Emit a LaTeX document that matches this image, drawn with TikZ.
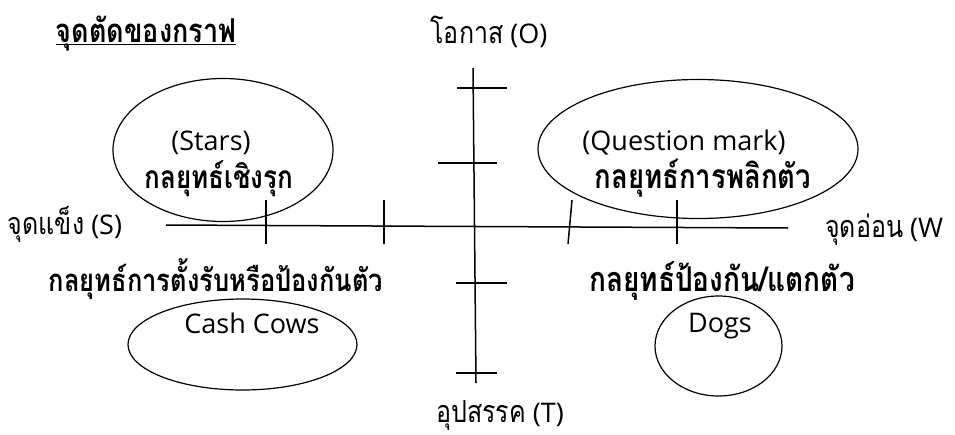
\documentclass[tikz,border=0pt]{standalone}
\usepackage{fontspec}
\usetikzlibrary{shapes.geometric}
\setmainfont{Open Sans}
\newfontfamily\thai[Script=Thai]{Loma}
\newcommand\tallthai[1]{\scalebox{1}[1.22]{\thai #1}}
\begin{document}
\begin{tikzpicture}[x=1pt,y=-1pt,
  axis/.style={line width=1.5pt},
  tick/.style={line width=1.5pt},
  oval/.style={draw, ellipse, line width=1.2pt, inner sep=0pt},
  lbl/.style={font=\fontsize{27}{31}\selectfont, inner sep=0pt, anchor=base},
  blbl/.style={font=\fontsize{26}{30}\selectfont\bfseries, inner sep=0pt, anchor=base}]
\useasboundingbox (0,0) rectangle (955,434);
% axes
\coordinate (vtop) at (473,68);
\coordinate (vbot) at (476,383);
\coordinate (hleft) at (166,225);
\coordinate (hright) at (788,228);
\draw[axis] (vtop) -- (vbot);
\draw[axis] (hleft) -- (hright);
% vertical ticks
\coordinate (t1a) at (457,88);  \coordinate (t1b) at (507,88);
\coordinate (t2a) at (438,163); \coordinate (t2b) at (497,163);
\coordinate (t3a) at (456,283); \coordinate (t3b) at (507,283);
\coordinate (t4a) at (456,373); \coordinate (t4b) at (497,373);
\draw[tick] (t1a) -- (t1b);
\draw[tick] (t2a) -- (t2b);
\draw[tick] (t3a) -- (t3b);
\draw[tick] (t4a) -- (t4b);
% horizontal ticks
\coordinate (h1a) at (266,200); \coordinate (h1b) at (266,244);
\coordinate (h2a) at (384,200); \coordinate (h2b) at (384,244);
\coordinate (h3a) at (572,200); \coordinate (h3b) at (568,244);
\coordinate (h4a) at (677,200); \coordinate (h4b) at (677,244);
\draw[tick] (h1a) -- (h1b);
\draw[tick] (h2a) -- (h2b);
\draw[tick] (h3a) -- (h3b);
\draw[tick] (h4a) -- (h4b);
% ellipses
\node[oval, minimum width=220pt, minimum height=143pt] (stars) at (223,150) {};
\node[oval, minimum width=320pt, minimum height=139pt] (qm) at (698,149) {};
\node[oval, minimum width=229pt, minimum height=91pt] (cows) at (242.5,344.5) {};
\node[oval, minimum width=127pt, minimum height=100pt] (dogs) at (718.5,346) {};
% labels
\node[blbl, font=\fontsize{27}{31}\selectfont\bfseries] (title) at (146,42) {\tallthai{จุดตัดของกราฟ}};
\draw[line width=1.6pt] ([yshift=-2.5pt]title.base west) -- ([yshift=-2.5pt]title.base east);
\node[lbl] (opp) at (489,43) {{\fontsize{25}{30}\selectfont\tallthai{โอกาส}} (O)};
\node[lbl] (thr) at (500,422) {{\fontsize{25}{30}\selectfont\tallthai{อุปสรรค}} (T)};
\node[lbl] (str) at (65,234) {{\fontsize{25}{30}\selectfont\tallthai{จุดแข็ง}} (S)};
\node[lbl, anchor=base west] (wk) at (825,237) {{\fontsize{25}{30}\selectfont\tallthai{จุดอ่อน}} (W};
\node[lbl] (starsl) at (211,150) {(Stars)};
\node[lbl] (qml) at (684,150) {(Question mark)};
\node[blbl] (s1) at (219,188) {\tallthai{กลยุทธ์เชิงรุก}};
\node[blbl, font=\fontsize{27.5}{31}\selectfont\bfseries] (s2) at (703,188) {\tallthai{กลยุทธ์การพลิกตัว}};
\node[blbl, font=\fontsize{25.5}{30}\selectfont\bfseries] (s3) at (216,291) {\tallthai{กลยุทธ์การตั้งรับหรือป้องกันตัว}};
\node[blbl, font=\fontsize{28}{32}\selectfont\bfseries] (s4) at (722,291) {\tallthai{กลยุทธ์ป้องกัน/แตกตัว}};
\node[lbl] (cowsl) at (252,333) {Cash Cows};
\node[lbl] (dogsl) at (720,332) {Dogs};
\end{tikzpicture}
\end{document}
